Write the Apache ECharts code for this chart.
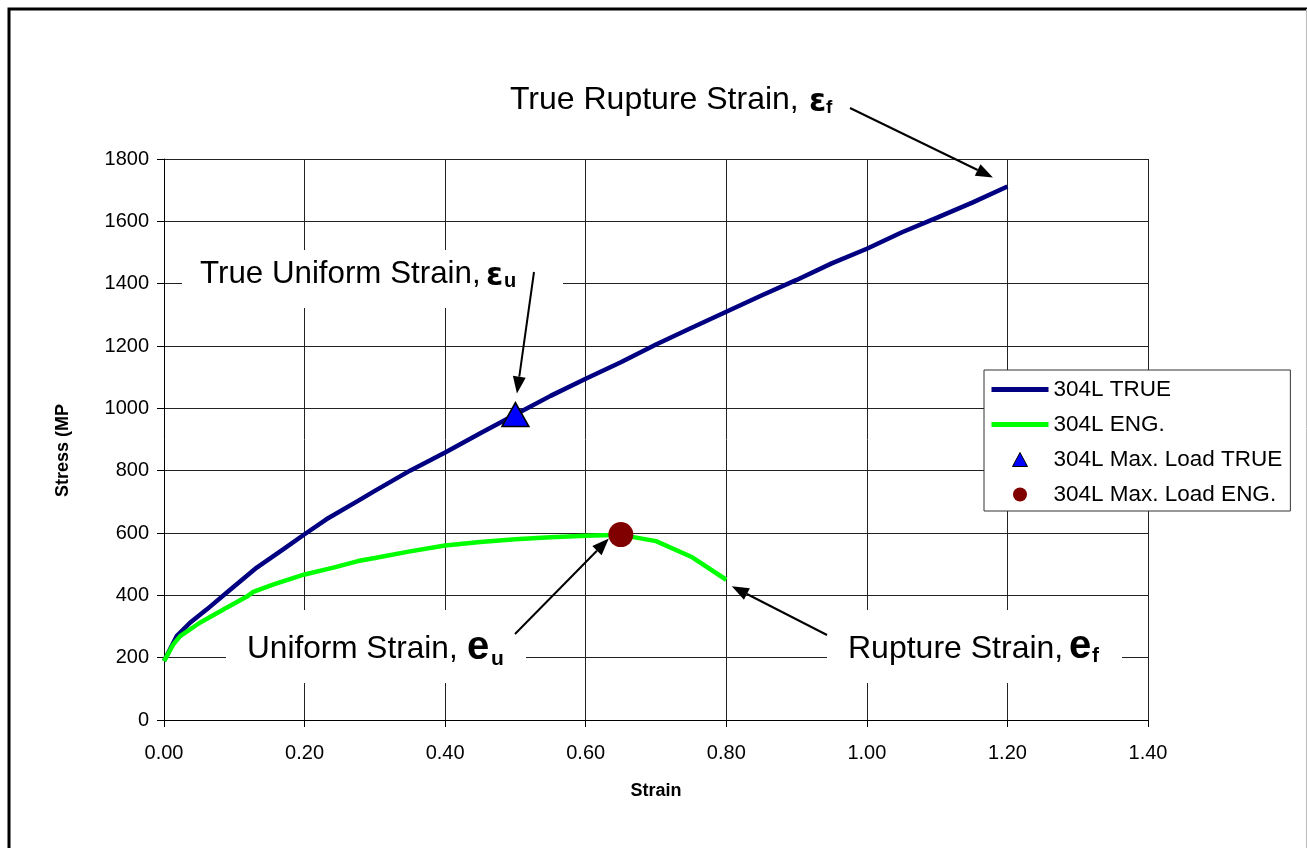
<!DOCTYPE html>
<html><head><meta charset="utf-8">
<script src="https://cdn.jsdelivr.net/npm/echarts@6/dist/echarts.min.js"></script>
<style>html,body{margin:0;padding:0;background:#fff}#c{width:1307px;height:848px}</style>
</head><body><div id="c"></div>
<script>
// ---- data ----
const trueStrain = [0, 0.018, 0.037, 0.061, 0.089, 0.132, 0.17, 0.2, 0.231, 0.276, 0.3, 0.35, 0.4, 0.45, 0.5, 0.55, 0.6, 0.65, 0.7, 0.75, 0.8, 0.85, 0.9, 0.95, 1.0, 1.05, 1.1, 1.15, 1.2];
const trueStress = [189, 269, 312, 355, 408, 489, 548, 596, 644, 703, 735, 800, 858, 920, 980, 1040, 1095, 1148, 1205, 1258, 1310, 1362, 1412, 1465, 1512, 1565, 1612, 1660, 1712];
const engStrain = [0, 0.013, 0.023, 0.051, 0.089, 0.118, 0.127, 0.156, 0.2, 0.241, 0.276, 0.3, 0.35, 0.4, 0.45, 0.5, 0.55, 0.6, 0.65, 0.7, 0.75, 0.8];
const engStress = [189, 242, 269, 312, 360, 396, 411, 435, 467, 489, 510, 520, 541, 560, 571, 580, 586, 591, 594, 574, 524, 450];
const maxLoadTrue = [[0.5, 980]];
const maxLoadEng = [[0.65, 595]];
const seriesNames = ['304L TRUE', '304L ENG.', '304L Max. Load TRUE', '304L Max. Load ENG.'];
const xAxisTitle = 'Strain';
const yAxisTitle = 'Stress (MP';

const FONT = "'Liberation Sans', Arial, sans-serif";
const GREEK = "'DejaVu Sans', sans-serif";
const zip = (a, b) => a.map((v, i) => [v, b[i]]);

const chart = echarts.init(document.getElementById('c'), null, {renderer: 'canvas'});
const option = {
  animation: false,
  backgroundColor: '#fff',
  grid: {left: 164, right: 159, top: 159, bottom: 128, containLabel: false},
  xAxis: {
    type: 'value', min: 0, max: 1.4, interval: 0.2,
    name: xAxisTitle, nameLocation: 'middle', nameGap: 62,
    nameTextStyle: {fontFamily: FONT, fontSize: 18, fontWeight: 'bold', color: '#000'},
    axisLine: {show: true, onZero: false, lineStyle: {color: '#000', width: 1}},
    axisTick: {show: true, inside: false, length: 7, lineStyle: {color: '#000'}},
    axisLabel: {fontFamily: FONT, fontSize: 20, color: '#000', margin: 23, formatter: v => v.toFixed(2)},
    splitLine: {show: true, lineStyle: {color: '#222', width: 1}}
  },
  yAxis: {
    type: 'value', min: 0, max: 1800, interval: 200,
    name: yAxisTitle, nameLocation: 'middle', nameGap: 92, nameRotate: 90,
    nameTextStyle: {fontFamily: FONT, fontSize: 18, fontWeight: 'bold', color: '#000', padding: [0, 22, 0, 0]},
    axisLine: {show: true, onZero: false, lineStyle: {color: '#000', width: 1}},
    axisTick: {show: true, inside: false, length: 7, lineStyle: {color: '#000'}},
    axisLabel: {fontFamily: FONT, fontSize: 20, color: '#000', margin: 15, formatter: v => String(v)},
    splitLine: {show: true, lineStyle: {color: '#222', width: 1}}
  },
  legend: {
    orient: 'vertical', left: 984, top: 370,
    padding: [8, 8, 5, 7], itemGap: 12, itemWidth: 57, itemHeight: 16,
    backgroundColor: '#fff', borderColor: '#333', borderWidth: 1,
    textStyle: {fontFamily: FONT, fontSize: 22.5, color: '#000'},
    data: [
      {name: seriesNames[0], icon: 'path://M0,0M57,16M0,5.5L57,5.5L57,10.5L0,10.5Z', itemStyle: {color: '#000080', borderWidth: 0}},
      {name: seriesNames[1], icon: 'path://M0,0M57,16M0,5.5L57,5.5L57,10.5L0,10.5Z', itemStyle: {color: '#00FF00', borderWidth: 0}},
      {name: seriesNames[2], icon: 'path://M0,0M57,16M28.5,1L36,15L21,15Z', itemStyle: {color: '#0000FF', borderColor: '#000', borderWidth: 1}},
      {name: seriesNames[3], icon: 'path://M0,0M57,16M21.5,8A7,7 0 1,0 35.5,8A7,7 0 1,0 21.5,8Z', itemStyle: {color: '#800000', borderWidth: 0}}
    ]
  },
  series: [
    {name: seriesNames[0], type: 'line', data: zip(trueStrain, trueStress), showSymbol: false, symbol: 'none',
     lineStyle: {color: '#000080', width: 4.5}, itemStyle: {color: '#000080'}, z: 2},
    {name: seriesNames[1], type: 'line', data: zip(engStrain, engStress), showSymbol: false, symbol: 'none',
     lineStyle: {color: '#00FF00', width: 4.5}, itemStyle: {color: '#00FF00'}, z: 3},
    {name: seriesNames[2], type: 'scatter', data: maxLoadTrue, symbol: 'triangle', symbolSize: [27, 24],
     itemStyle: {color: '#0000FF', borderColor: '#000', borderWidth: 1.5, opacity: 1}, z: 4},
    {name: seriesNames[3], type: 'scatter', data: maxLoadEng, symbol: 'circle', symbolSize: 25,
     itemStyle: {color: '#800000', opacity: 1}, z: 4}
  ]
};
chart.setOption(option);

// ---- annotations (layout) ----
const px = p => chart.convertToPixel({gridIndex: 0}, p);
function arrow(x1, y1, x2, y2) {
  const a = Math.atan2(y2 - y1, x2 - x1), L = 17, W = 6.5;
  const bx = x2 - L * Math.cos(a), by = y2 - L * Math.sin(a);
  const nx = -Math.sin(a), ny = Math.cos(a);
  return [
    {type: 'line', z: 100, shape: {x1: x1, y1: y1, x2: bx, y2: by}, style: {stroke: '#000', lineWidth: 2}},
    {type: 'polygon', z: 100, shape: {points: [[x2, y2], [bx + nx * W, by + ny * W], [bx - nx * W, by - ny * W]]}, style: {fill: '#000'}}
  ];
}
function txt(x, y, s, size, bold, fam) {
  return {type: 'text', z: 101, x: x, y: y, style: {text: s, fontFamily: fam || FONT, fontSize: size, fontWeight: bold ? 'bold' : 'normal', fill: '#000', verticalAlign: 'middle', align: 'left'}};
}
function box(x, y, w, h) {
  return {type: 'rect', z: 99, shape: {x: x, y: y, width: w, height: h}, style: {fill: '#fff'}};
}
const endTrue = px([trueStrain[trueStrain.length - 1], trueStress[trueStress.length - 1]]);
const endEng = px([engStrain[engStrain.length - 1], engStress[engStress.length - 1]]);
const pTri = px(maxLoadTrue[0]);
const pCir = px(maxLoadEng[0]);

const g = [
  {type: 'rect', z: 120, shape: {x: 9, y: 9, width: 1302, height: 870}, style: {fill: 'none', stroke: '#000', lineWidth: 3}},
  {type: 'line', z: 120, shape: {x1: 1306.5, y1: 9, x2: 1306.5, y2: 848}, style: {stroke: '#bbb', lineWidth: 1}},
  box(182, 250, 381, 58), box(226, 610, 300, 73), box(827, 610, 295, 73),
  txt(510, 100, 'True Rupture Strain,', 32, false), txt(809, 103, 'ε', 31, true, GREEK), txt(826, 108, 'f', 19, true),
  txt(200, 274, 'True Uniform Strain,', 31.3, false), txt(486, 277, 'ε', 31, true, GREEK), txt(504, 281, 'u', 20, true),
  txt(247, 649, 'Uniform Strain,', 31.6, false), txt(467, 648, 'e', 40, true), txt(491, 659, 'u', 21, true),
  txt(848, 649, 'Rupture Strain,', 32, false), txt(1069, 647, 'e', 40, true), txt(1092, 656, 'f', 21, true)
]
  .concat(arrow(850, 108, endTrue[0] - 14.5, endTrue[1] - 9))
  .concat(arrow(534, 272, pTri[0] + 1.5, pTri[1] - 21))
  .concat(arrow(515, 634, pCir[0] - 12, pCir[1] + 4))
  .concat(arrow(827, 635, endEng[0] + 5.5, endEng[1] + 6.5));
chart.setOption({graphic: {elements: g}});
</script></body></html>
